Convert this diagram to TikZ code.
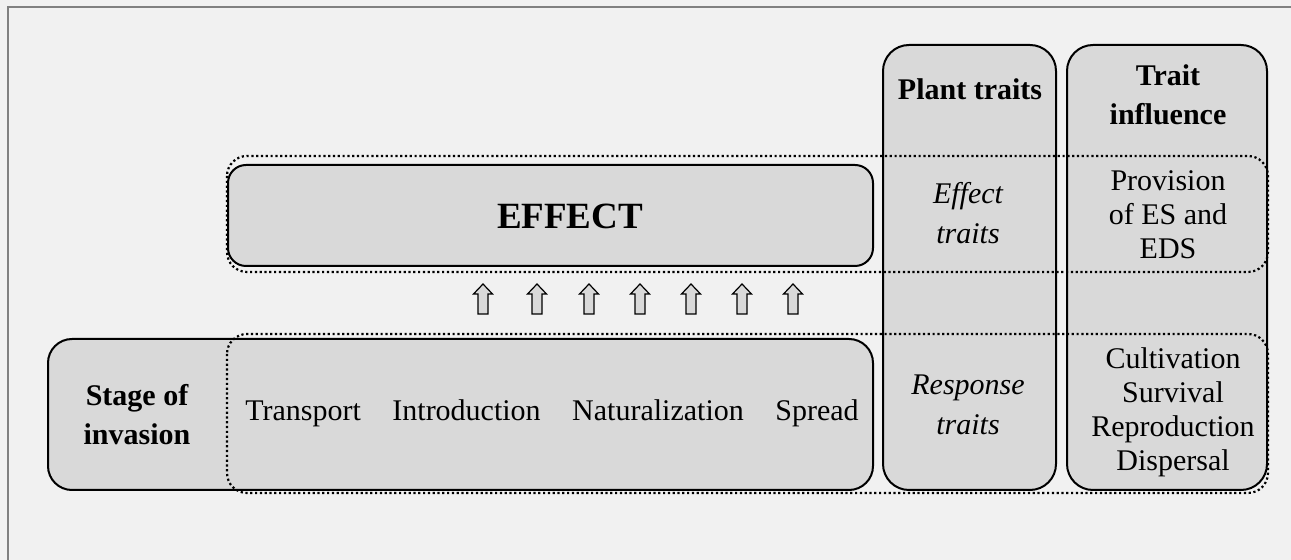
\documentclass[tikz,border=0pt]{standalone}
\usepackage{fontspec}
\setmainfont{Liberation Serif}
\definecolor{boxgray}{HTML}{D9D9D9}
\definecolor{bggray}{HTML}{F1F1F1}
\definecolor{framegray}{HTML}{808080}
\begin{document}
\begin{tikzpicture}[x=0.5pt, y=-0.5pt,
  box/.style={draw=black, line width=1pt, fill=boxgray},
  group/.style={draw=black, line width=1.1pt, dash pattern=on 1.1pt off 1.3pt, rounded corners=10pt},
  txt/.style={align=center, inner sep=0pt, font=\fontsize{15}{17}\selectfont},
  head/.style={align=center, inner sep=0pt, font=\fontsize{15}{19.5}\selectfont\bfseries},
  emph/.style={align=center, inner sep=0pt, font=\fontsize{15}{20}\selectfont\itshape}]
  \fill[bggray] (0,0) rectangle (1291,560);
  \useasboundingbox (0,0) rectangle (1291,560);
  \draw[framegray, line width=1pt] (8,560) -- (8,7) -- (1291,7);

  % columns and boxes
  \draw[box, rounded corners=13pt] (883,45) rectangle (1056,490);
  \draw[box, rounded corners=13pt] (1067,45) rectangle (1267,490);
  \draw[box, rounded corners=9pt] (228,165) rectangle (873,266);
  \draw[box, rounded corners=12pt] (48,339) rectangle (873,490);

  % arrows
  \foreach \x in {483,537,589,640,691,742,793}
    \draw[line width=0.6pt, fill=boxgray] (\x-5,314) -- (\x-5,294) -- (\x-9.5,294) -- (\x,284)
      -- (\x+9.5,294) -- (\x+5,294) -- (\x+5,314) -- cycle;

  \draw[group] (227,156) rectangle (1268,272);
  \draw[group] (227,334) rectangle (1268,493);

  \node[head, anchor=base] (plant) at (970,100) {Plant traits};
  \node[head] (influence) at (1168,95) {Trait\\influence};
  \node[emph] (efftraits) at (968,213) {Effect\\traits};
  \node[txt] (provision) at (1168,215) {Provision\\of ES and\\EDS};
  \node[anchor=base, inner sep=0pt, font=\fontsize{18.5}{22}\selectfont\bfseries] (effect) at (570,229) {EFFECT};
  \node[head] (stage) at (137,415) {Stage of\\invasion};
  \node[txt, anchor=base] (stages) at (552,421)
    {Transport\hspace{12pt} Introduction\hspace{12pt} Naturalization\hspace{12pt} Spread};
  \node[emph] (resptraits) at (968,405) {Response\\traits};
  \node[txt] (fitness) at (1173,412) {Cultivation\\Survival\\Reproduction\\Dispersal};
\end{tikzpicture}
\end{document}
